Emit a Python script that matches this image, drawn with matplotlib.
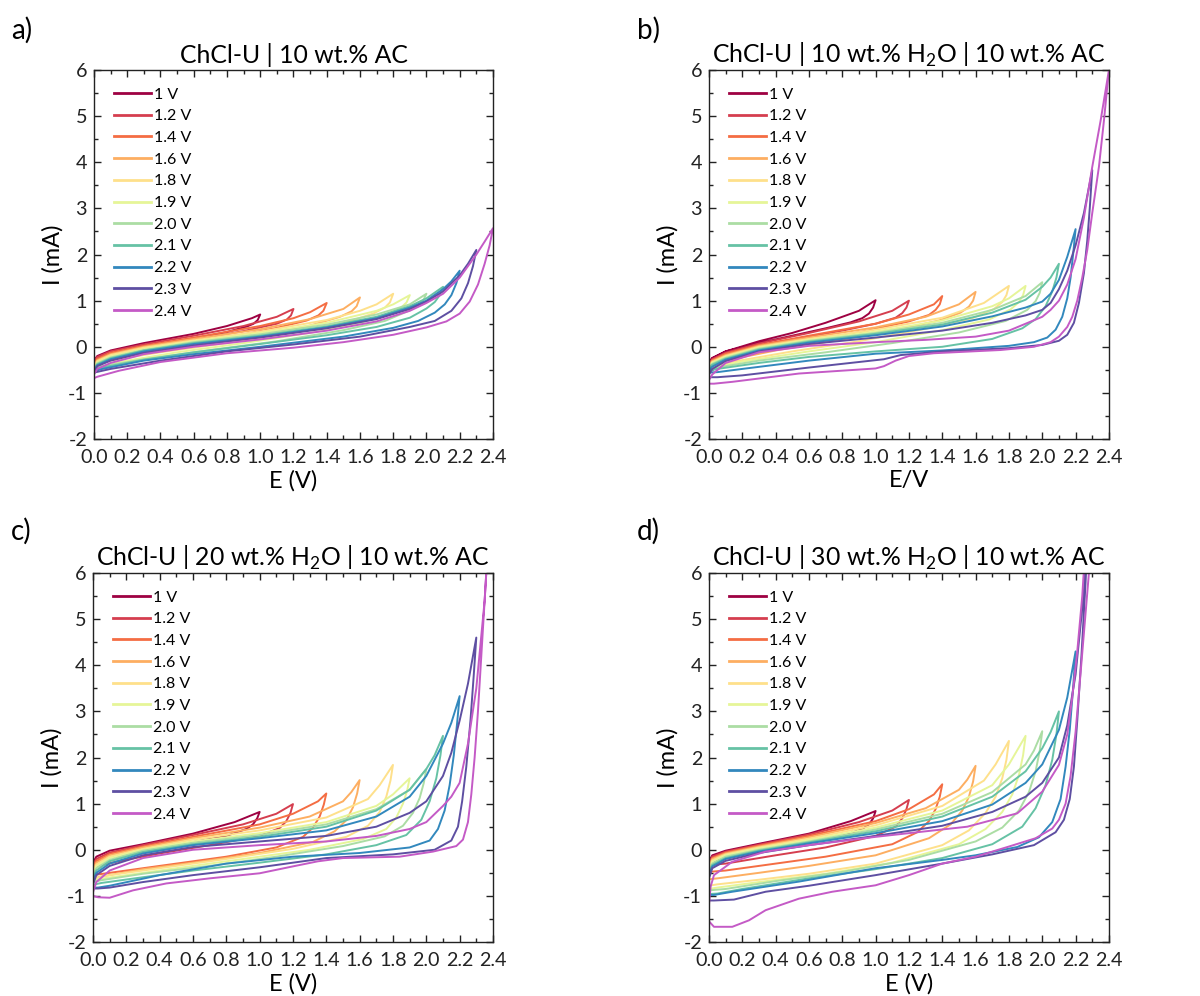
import matplotlib
matplotlib.use("Agg")
import matplotlib.pyplot as plt
from matplotlib.ticker import MultipleLocator

plt.rcParams["font.family"] = ["Lato", "DejaVu Sans"]
plt.rcParams["mathtext.fontset"] = "custom"
plt.rcParams["mathtext.rm"] = "Lato"

# vertex potentials and their colours
VERTICES = [1.0, 1.2, 1.4, 1.6, 1.8, 1.9, 2.0, 2.1, 2.2, 2.3, 2.4]
LABELS = ["1 V", "1.2 V", "1.4 V", "1.6 V", "1.8 V", "1.9 V", "2.0 V", "2.1 V", "2.2 V", "2.3 V", "2.4 V"]
COLORS = ["#9e0142", "#d53e4f", "#f46d43", "#fdae61", "#fee08b", "#e6f598",
          "#abdda4", "#66c2a5", "#3288bd", "#5e4fa2", "#c45ac6"]

TITLES = ["ChCl-U | 10 wt.% AC",
          "ChCl-U | 10 wt.% H$_2$O | 10 wt.% AC",
          "ChCl-U | 20 wt.% H$_2$O | 10 wt.% AC",
          "ChCl-U | 30 wt.% H$_2$O | 10 wt.% AC"]
LETTERS = ["a)", "b)", "c)", "d)"]
XLABELS = ["E (V)", "E/V", "E (V)", "E (V)"]

# ---- panel a: (E, I) ----
A_FWD = [
    [(0, -0.30), (0.02, -0.20), (0.1, -0.08), (0.3, 0.08), (0.6, 0.28), (0.8, 0.45), (0.95, 0.62), (1.0, 0.70)],
    [(0, -0.33), (0.02, -0.22), (0.1, -0.10), (0.3, 0.05), (0.6, 0.24), (0.9, 0.45), (1.1, 0.65), (1.2, 0.82)],
    [(0, -0.37), (0.02, -0.26), (0.1, -0.13), (0.3, 0.02), (0.6, 0.20), (1.0, 0.45), (1.2, 0.62), (1.3, 0.75), (1.4, 0.95)],
    [(0, -0.40), (0.02, -0.29), (0.1, -0.16), (0.3, 0.00), (0.6, 0.17), (1.0, 0.38), (1.3, 0.60), (1.5, 0.82), (1.6, 1.07)],
    [(0, -0.43), (0.02, -0.31), (0.1, -0.18), (0.3, -0.02), (0.6, 0.14), (1.0, 0.33), (1.4, 0.58), (1.6, 0.78), (1.7, 0.92), (1.8, 1.15)],
    [(0, -0.46), (0.02, -0.34), (0.1, -0.21), (0.3, -0.05), (0.6, 0.12), (1.0, 0.30), (1.4, 0.52), (1.7, 0.78), (1.8, 0.92), (1.9, 1.12)],
    [(0, -0.48), (0.02, -0.36), (0.1, -0.23), (0.3, -0.07), (0.6, 0.10), (1.0, 0.27), (1.4, 0.48), (1.7, 0.70), (1.9, 0.92), (2.0, 1.15)],
    [(0, -0.50), (0.02, -0.38), (0.1, -0.25), (0.3, -0.08), (0.6, 0.08), (1.0, 0.24), (1.4, 0.44), (1.7, 0.65), (1.9, 0.88), (2.0, 1.05), (2.1, 1.30)],
    [(0, -0.52), (0.02, -0.40), (0.1, -0.27), (0.3, -0.10), (0.6, 0.06), (1.0, 0.22), (1.4, 0.42), (1.7, 0.62), (1.9, 0.85), (2.0, 1.00), (2.1, 1.25), (2.15, 1.42), (2.2, 1.65)],
    [(0, -0.55), (0.02, -0.42), (0.1, -0.30), (0.3, -0.13), (0.6, 0.03), (1.0, 0.20), (1.4, 0.40), (1.7, 0.60), (1.9, 0.82), (2.0, 0.98), (2.1, 1.20), (2.2, 1.55), (2.25, 1.80), (2.3, 2.10)],
    [(0, -0.60), (0.02, -0.48), (0.1, -0.35), (0.3, -0.16), (0.6, 0.00), (1.0, 0.16), (1.4, 0.35), (1.7, 0.55), (1.9, 0.78), (2.0, 0.95), (2.1, 1.15), (2.2, 1.50), (2.3, 2.00), (2.35, 2.28), (2.4, 2.57)],
]
A_REV = [
    [(1.0, 0.70), (0.985, 0.58), (0.96, 0.50), (0.92, 0.44), (0.8, 0.32), (0.5, 0.10), (0.2, -0.08), (0.05, -0.20), (0, -0.30)],
    [(1.2, 0.82), (1.185, 0.68), (1.16, 0.59), (1.1, 0.50), (0.9, 0.34), (0.6, 0.15), (0.3, -0.03), (0.1, -0.17), (0, -0.33)],
    [(1.4, 0.95), (1.38, 0.78), (1.35, 0.68), (1.28, 0.57), (1.1, 0.41), (0.8, 0.20), (0.5, 0.02), (0.2, -0.16), (0, -0.37)],
    [(1.6, 1.07), (1.58, 0.88), (1.55, 0.77), (1.48, 0.65), (1.3, 0.46), (1.0, 0.24), (0.6, 0.02), (0.3, -0.14), (0.1, -0.27), (0, -0.40)],
    [(1.8, 1.15), (1.78, 0.96), (1.75, 0.85), (1.68, 0.72), (1.5, 0.51), (1.2, 0.30), (0.8, 0.08), (0.4, -0.12), (0.1, -0.30), (0, -0.43)],
    [(1.9, 1.12), (1.88, 0.96), (1.85, 0.86), (1.78, 0.73), (1.6, 0.51), (1.3, 0.30), (0.9, 0.08), (0.5, -0.12), (0.2, -0.30), (0, -0.46)],
    [(2.0, 1.15), (1.98, 1.00), (1.95, 0.90), (1.9, 0.79), (1.75, 0.56), (1.5, 0.36), (1.1, 0.12), (0.7, -0.07), (0.3, -0.27), (0.05, -0.42), (0, -0.48)],
    [(2.1, 1.30), (2.08, 1.12), (2.05, 0.97), (2.0, 0.83), (1.9, 0.63), (1.7, 0.43), (1.4, 0.25), (1.0, 0.06), (0.6, -0.12), (0.3, -0.28), (0.05, -0.45), (0, -0.50)],
    [(2.2, 1.65), (2.18, 1.38), (2.15, 1.12), (2.11, 0.92), (2.05, 0.74), (1.95, 0.56), (1.8, 0.41), (1.5, 0.22), (1.0, 0.00), (0.6, -0.16), (0.3, -0.30), (0.05, -0.48), (0, -0.52)],
    [(2.3, 2.10), (2.28, 1.75), (2.25, 1.38), (2.21, 1.05), (2.15, 0.78), (2.05, 0.56), (1.9, 0.43), (1.6, 0.22), (1.2, 0.05), (0.8, -0.10), (0.4, -0.30), (0.1, -0.48), (0, -0.56)],
    [(2.4, 2.57), (2.38, 2.20), (2.35, 1.80), (2.31, 1.35), (2.26, 0.98), (2.2, 0.72), (2.12, 0.55), (2.0, 0.42), (1.8, 0.26), (1.5, 0.10), (1.2, -0.02), (0.8, -0.14), (0.4, -0.33), (0.15, -0.52), (0.02, -0.65), (0, -0.68)],
]

# ---- panel b ----
B_FWD = [
    [(0, -0.33), (0.02, -0.24), (0.1, -0.10), (0.3, 0.12), (0.5, 0.30), (0.7, 0.52), (0.9, 0.78), (1.0, 1.01)],
    [(0, -0.36), (0.02, -0.27), (0.1, -0.13), (0.3, 0.07), (0.6, 0.30), (0.9, 0.55), (1.1, 0.78), (1.2, 1.00)],
    [(0, -0.38), (0.02, -0.29), (0.1, -0.15), (0.3, 0.04), (0.6, 0.24), (1.0, 0.50), (1.2, 0.70), (1.35, 0.92), (1.4, 1.10)],
    [(0, -0.40), (0.02, -0.31), (0.1, -0.18), (0.3, 0.02), (0.6, 0.20), (1.0, 0.42), (1.3, 0.65), (1.5, 0.92), (1.6, 1.19)],
    [(0, -0.42), (0.02, -0.33), (0.1, -0.20), (0.3, 0.00), (0.6, 0.17), (1.0, 0.37), (1.4, 0.63), (1.65, 0.95), (1.8, 1.32)],
    [(0, -0.44), (0.02, -0.35), (0.1, -0.22), (0.3, -0.02), (0.6, 0.15), (1.0, 0.33), (1.4, 0.57), (1.7, 0.88), (1.8, 1.05), (1.9, 1.32)],
    [(0, -0.46), (0.02, -0.37), (0.1, -0.24), (0.3, -0.04), (0.6, 0.13), (1.0, 0.30), (1.4, 0.52), (1.7, 0.80), (1.9, 1.10), (2.0, 1.40)],
    [(0, -0.48), (0.02, -0.39), (0.1, -0.26), (0.3, -0.06), (0.6, 0.11), (1.0, 0.28), (1.4, 0.48), (1.7, 0.74), (1.9, 1.02), (2.0, 1.30), (2.05, 1.50), (2.1, 1.80)],
    [(0, -0.52), (0.02, -0.43), (0.1, -0.28), (0.3, -0.08), (0.6, 0.09), (1.0, 0.25), (1.4, 0.44), (1.7, 0.66), (1.9, 0.85), (2.0, 0.98), (2.05, 1.15), (2.1, 1.45), (2.15, 1.95), (2.2, 2.55)],
    [(0, -0.60), (0.02, -0.48), (0.1, -0.31), (0.3, -0.10), (0.6, 0.06), (1.0, 0.20), (1.4, 0.35), (1.7, 0.52), (1.9, 0.68), (2.0, 0.80), (2.05, 0.95), (2.1, 1.25), (2.15, 1.65), (2.2, 2.20), (2.25, 2.90), (2.3, 3.83)],
    [(0, -0.72), (0.02, -0.60), (0.1, -0.35), (0.3, -0.12), (0.6, 0.02), (1.0, 0.10), (1.3, 0.15), (1.6, 0.22), (1.8, 0.35), (2.0, 0.65), (2.05, 0.80), (2.1, 1.00), (2.15, 1.35), (2.2, 1.90), (2.25, 2.80), (2.3, 3.90), (2.35, 4.90), (2.4, 6.00)],
]
B_REV = [
    [(1.0, 1.01), (0.985, 0.85), (0.96, 0.72), (0.92, 0.62), (0.85, 0.53), (0.7, 0.40), (0.5, 0.24), (0.3, 0.08), (0.1, -0.10), (0.02, -0.25), (0, -0.35)],
    [(1.2, 1.00), (1.185, 0.85), (1.16, 0.73), (1.12, 0.63), (1.0, 0.50), (0.8, 0.35), (0.5, 0.16), (0.25, -0.02), (0.05, -0.25), (0, -0.38)],
    [(1.4, 1.10), (1.385, 0.92), (1.36, 0.80), (1.32, 0.69), (1.2, 0.55), (0.95, 0.35), (0.6, 0.12), (0.3, -0.08), (0.05, -0.30), (0, -0.40)],
    [(1.6, 1.19), (1.585, 1.00), (1.56, 0.87), (1.51, 0.74), (1.38, 0.57), (1.1, 0.34), (0.7, 0.10), (0.4, -0.08), (0.1, -0.30), (0, -0.42)],
    [(1.8, 1.32), (1.785, 1.12), (1.76, 0.97), (1.71, 0.82), (1.58, 0.62), (1.3, 0.39), (0.9, 0.12), (0.5, -0.10), (0.15, -0.32), (0, -0.45)],
    [(1.9, 1.32), (1.885, 1.12), (1.86, 0.97), (1.81, 0.81), (1.68, 0.59), (1.4, 0.36), (1.0, 0.10), (0.6, -0.10), (0.2, -0.32), (0, -0.47)],
    [(2.0, 1.40), (1.985, 1.17), (1.96, 0.99), (1.91, 0.80), (1.78, 0.56), (1.5, 0.31), (1.1, 0.08), (0.7, -0.12), (0.3, -0.30), (0.05, -0.45), (0, -0.50)],
    [(2.1, 1.80), (2.085, 1.50), (2.06, 1.20), (2.02, 0.88), (1.96, 0.60), (1.88, 0.40), (1.7, 0.17), (1.4, 0.00), (1.0, -0.10), (0.6, -0.22), (0.3, -0.35), (0.05, -0.48), (0, -0.52)],
    [(2.2, 2.55), (2.185, 2.00), (2.17, 1.50), (2.15, 1.05), (2.12, 0.65), (2.08, 0.37), (2.03, 0.20), (1.95, 0.10), (1.8, 0.02), (1.4, -0.08), (1.0, -0.15), (0.6, -0.30), (0.2, -0.48), (0.05, -0.55), (0, -0.56)],
    [(2.3, 3.83), (2.285, 3.00), (2.27, 2.30), (2.25, 1.60), (2.22, 0.95), (2.19, 0.52), (2.15, 0.26), (2.1, 0.13), (2.0, 0.04), (1.8, -0.03), (1.4, -0.10), (1.15, -0.18), (1.05, -0.27), (0.9, -0.33), (0.6, -0.45), (0.2, -0.62), (0.05, -0.66), (0, -0.66)],
    [(2.4, 6.00), (2.37, 4.90), (2.34, 3.90), (2.3, 2.90), (2.27, 2.10), (2.24, 1.50), (2.21, 1.00), (2.18, 0.65), (2.15, 0.43), (2.1, 0.22), (2.05, 0.10), (1.95, 0.00), (1.75, -0.07), (1.35, -0.14), (1.2, -0.20), (1.12, -0.30), (1.05, -0.42), (1.0, -0.47), (0.54, -0.58), (0.14, -0.76), (0.03, -0.80), (0, -0.80)],
]

# ---- panel c ----
C_FWD = [
    [(0, -0.28), (0.02, -0.15), (0.1, -0.02), (0.3, 0.12), (0.6, 0.35), (0.85, 0.60), (1.0, 0.82)],
    [(0, -0.32), (0.02, -0.20), (0.1, -0.06), (0.3, 0.10), (0.6, 0.32), (0.9, 0.55), (1.1, 0.78), (1.2, 0.99)],
    [(0, -0.36), (0.02, -0.24), (0.1, -0.09), (0.3, 0.07), (0.6, 0.28), (1.0, 0.55), (1.2, 0.78), (1.35, 1.05), (1.4, 1.22)],
    [(0, -0.42), (0.02, -0.28), (0.1, -0.12), (0.3, 0.05), (0.6, 0.25), (1.0, 0.48), (1.3, 0.72), (1.5, 1.05), (1.55, 1.25), (1.6, 1.51)],
    [(0, -0.48), (0.02, -0.32), (0.1, -0.15), (0.3, 0.02), (0.6, 0.22), (1.0, 0.42), (1.4, 0.70), (1.65, 1.10), (1.72, 1.40), (1.8, 1.84)],
    [(0, -0.52), (0.02, -0.36), (0.1, -0.18), (0.3, 0.00), (0.6, 0.18), (1.0, 0.36), (1.4, 0.60), (1.7, 0.95), (1.8, 1.20), (1.9, 1.55)],
    [(0, -0.56), (0.02, -0.40), (0.1, -0.22), (0.3, -0.02), (0.6, 0.15), (1.0, 0.32), (1.4, 0.55), (1.7, 0.88), (1.9, 1.30), (2.0, 1.75)],
    [(0, -0.62), (0.02, -0.45), (0.1, -0.25), (0.3, -0.05), (0.6, 0.12), (1.0, 0.28), (1.4, 0.50), (1.7, 0.85), (1.9, 1.30), (2.0, 1.75), (2.05, 2.05), (2.1, 2.47)],
    [(0, -0.68), (0.02, -0.50), (0.1, -0.30), (0.3, -0.08), (0.6, 0.10), (1.0, 0.25), (1.4, 0.42), (1.7, 0.72), (1.9, 1.15), (2.0, 1.60), (2.1, 2.30), (2.15, 2.75), (2.2, 3.33)],
    [(0, -0.75), (0.02, -0.55), (0.1, -0.35), (0.3, -0.12), (0.6, 0.06), (1.0, 0.18), (1.4, 0.30), (1.7, 0.50), (1.9, 0.80), (2.0, 1.05), (2.1, 1.60), (2.15, 2.10), (2.2, 2.80), (2.25, 3.60), (2.3, 4.60)],
    [(0, -0.92), (0.02, -0.70), (0.1, -0.45), (0.3, -0.18), (0.6, 0.00), (1.0, 0.10), (1.4, 0.18), (1.7, 0.30), (1.9, 0.45), (2.0, 0.60), (2.1, 0.95), (2.15, 1.15), (2.2, 1.45), (2.25, 2.30), (2.3, 3.50), (2.35, 5.40), (2.4, 8.50)],
]
C_REV = [
    [(1.0, 0.82), (0.985, 0.68), (0.96, 0.55), (0.92, 0.45), (0.8, 0.30), (0.5, 0.10), (0.25, -0.05), (0.05, -0.20), (0, -0.32)],
    [(1.2, 0.99), (1.185, 0.80), (1.16, 0.62), (1.12, 0.47), (1.0, 0.30), (0.7, 0.10), (0.4, -0.08), (0.15, -0.25), (0, -0.38)],
    [(1.4, 1.22), (1.385, 0.98), (1.36, 0.72), (1.32, 0.48), (1.26, 0.28), (1.1, 0.05), (0.8, -0.15), (0.4, -0.35), (0.1, -0.50), (0, -0.55)],
    [(1.6, 1.51), (1.585, 1.22), (1.56, 0.92), (1.52, 0.64), (1.45, 0.40), (1.32, 0.17), (1.0, -0.07), (0.6, -0.28), (0.3, -0.42), (0.05, -0.58), (0, -0.62)],
    [(1.8, 1.84), (1.785, 1.50), (1.76, 1.15), (1.72, 0.82), (1.65, 0.52), (1.52, 0.28), (1.2, 0.02), (0.8, -0.20), (0.4, -0.40), (0.1, -0.55), (0, -0.62)],
    [(1.9, 1.55), (1.885, 1.28), (1.86, 1.00), (1.82, 0.70), (1.76, 0.45), (1.62, 0.23), (1.3, 0.00), (0.9, -0.20), (0.5, -0.40), (0.1, -0.60), (0, -0.66)],
    [(2.0, 1.75), (1.985, 1.45), (1.96, 1.12), (1.92, 0.80), (1.86, 0.52), (1.75, 0.29), (1.5, 0.08), (1.1, -0.15), (0.7, -0.35), (0.3, -0.52), (0.05, -0.66), (0, -0.70)],
    [(2.1, 2.47), (2.085, 2.05), (2.06, 1.55), (2.02, 1.05), (1.97, 0.65), (1.88, 0.32), (1.7, 0.10), (1.4, -0.10), (1.0, -0.28), (0.6, -0.45), (0.25, -0.62), (0.05, -0.72), (0, -0.76)],
    [(2.2, 3.33), (2.185, 2.75), (2.165, 2.05), (2.14, 1.40), (2.11, 0.85), (2.07, 0.45), (2.02, 0.20), (1.9, 0.05), (1.6, -0.07), (1.2, -0.15), (0.8, -0.30), (0.4, -0.55), (0.1, -0.78), (0.03, -0.82), (0, -0.82)],
    [(2.3, 4.60), (2.285, 3.80), (2.265, 2.80), (2.24, 1.80), (2.215, 1.05), (2.19, 0.50), (2.15, 0.20), (2.05, 0.00), (1.8, -0.10), (1.4, -0.18), (1.0, -0.38), (0.6, -0.55), (0.3, -0.70), (0.1, -0.82), (0.03, -0.84), (0, -0.84)],
    [(2.4, 8.50), (2.36, 6.00), (2.33, 4.20), (2.31, 3.00), (2.29, 2.00), (2.27, 1.20), (2.25, 0.60), (2.22, 0.22), (2.18, 0.08), (2.04, -0.04), (1.84, -0.15), (1.5, -0.18), (1.35, -0.25), (1.2, -0.36), (1.0, -0.51), (0.7, -0.62), (0.44, -0.73), (0.24, -0.88), (0.1, -1.04), (0.03, -1.03), (0, -1.00)],
]

# ---- panel d ----
D_FWD = [
    [(0, -0.25), (0.02, -0.12), (0.1, -0.02), (0.3, 0.13), (0.6, 0.35), (0.85, 0.62), (1.0, 0.84)],
    [(0, -0.28), (0.02, -0.15), (0.1, -0.04), (0.3, 0.11), (0.6, 0.33), (0.9, 0.60), (1.1, 0.85), (1.2, 1.08)],
    [(0, -0.32), (0.02, -0.18), (0.1, -0.06), (0.3, 0.09), (0.6, 0.30), (1.0, 0.62), (1.2, 0.88), (1.35, 1.20), (1.4, 1.42)],
    [(0, -0.36), (0.02, -0.20), (0.1, -0.08), (0.3, 0.07), (0.6, 0.27), (1.0, 0.58), (1.3, 0.90), (1.5, 1.30), (1.55, 1.52), (1.6, 1.82)],
    [(0, -0.40), (0.02, -0.23), (0.1, -0.10), (0.3, 0.05), (0.6, 0.24), (1.0, 0.53), (1.4, 0.95), (1.65, 1.50), (1.72, 1.85), (1.8, 2.36)],
    [(0, -0.44), (0.02, -0.26), (0.1, -0.12), (0.3, 0.03), (0.6, 0.21), (1.0, 0.48), (1.4, 0.85), (1.7, 1.40), (1.8, 1.85), (1.9, 2.47)],
    [(0, -0.48), (0.02, -0.30), (0.1, -0.15), (0.3, 0.00), (0.6, 0.18), (1.0, 0.44), (1.4, 0.78), (1.7, 1.25), (1.9, 1.85), (1.95, 2.15), (2.0, 2.57)],
    [(0, -0.52), (0.02, -0.33), (0.1, -0.18), (0.3, -0.02), (0.6, 0.16), (1.0, 0.40), (1.4, 0.72), (1.7, 1.15), (1.9, 1.70), (2.0, 2.20), (2.05, 2.55), (2.1, 3.00)],
    [(0, -0.56), (0.02, -0.36), (0.1, -0.20), (0.3, -0.04), (0.6, 0.14), (1.0, 0.36), (1.4, 0.62), (1.7, 0.98), (1.9, 1.45), (2.0, 1.85), (2.1, 2.60), (2.15, 3.30), (2.2, 4.30)],
    [(0, -0.62), (0.02, -0.40), (0.1, -0.24), (0.3, -0.07), (0.6, 0.10), (1.0, 0.30), (1.4, 0.52), (1.7, 0.82), (1.9, 1.15), (2.0, 1.45), (2.1, 2.00), (2.15, 2.70), (2.2, 3.80), (2.25, 5.60), (2.3, 9.00)],
    [(0, -1.20), (0.01, -0.80), (0.03, -0.55), (0.14, -0.26), (0.34, -0.04), (0.6, 0.10), (1.0, 0.28), (1.55, 0.50), (1.85, 0.79), (2.0, 1.26), (2.1, 1.84), (2.15, 2.50), (2.18, 3.30), (2.21, 4.30), (2.24, 5.50), (2.3, 9.00), (2.4, 15.0)],
]
D_REV = [
    [(1.0, 0.84), (0.985, 0.68), (0.96, 0.55), (0.92, 0.45), (0.8, 0.30), (0.5, 0.08), (0.2, -0.10), (0.05, -0.22), (0, -0.28)],
    [(1.2, 1.08), (1.185, 0.88), (1.16, 0.68), (1.12, 0.50), (1.0, 0.30), (0.7, 0.05), (0.4, -0.12), (0.1, -0.30), (0, -0.33)],
    [(1.4, 1.42), (1.385, 1.15), (1.36, 0.88), (1.32, 0.62), (1.25, 0.38), (1.1, 0.12), (0.7, -0.15), (0.4, -0.30), (0.1, -0.45), (0, -0.48)],
    [(1.6, 1.82), (1.585, 1.48), (1.56, 1.15), (1.52, 0.85), (1.45, 0.55), (1.32, 0.25), (1.0, -0.12), (0.6, -0.35), (0.3, -0.50), (0.05, -0.62), (0, -0.64)],
    [(1.8, 2.36), (1.785, 1.95), (1.76, 1.55), (1.72, 1.15), (1.66, 0.80), (1.56, 0.42), (1.4, 0.10), (1.0, -0.30), (0.6, -0.52), (0.3, -0.65), (0.05, -0.75), (0, -0.78)],
    [(1.9, 2.47), (1.885, 2.05), (1.86, 1.62), (1.82, 1.20), (1.76, 0.82), (1.66, 0.45), (1.5, 0.12), (1.1, -0.28), (0.7, -0.52), (0.3, -0.70), (0.05, -0.82), (0, -0.85)],
    [(2.0, 2.57), (1.985, 2.15), (1.96, 1.70), (1.92, 1.25), (1.86, 0.85), (1.76, 0.48), (1.6, 0.18), (1.2, -0.22), (0.8, -0.48), (0.4, -0.68), (0.1, -0.85), (0, -0.88)],
    [(2.1, 3.00), (2.085, 2.50), (2.06, 1.95), (2.02, 1.40), (1.96, 0.90), (1.88, 0.50), (1.7, 0.12), (1.4, -0.18), (1.0, -0.42), (0.6, -0.62), (0.2, -0.85), (0.05, -0.95), (0, -0.96)],
    [(2.2, 4.30), (2.185, 3.50), (2.165, 2.60), (2.14, 1.80), (2.11, 1.10), (2.06, 0.60), (1.98, 0.27), (1.85, 0.06), (1.6, -0.12), (1.4, -0.22), (1.0, -0.40), (0.54, -0.69), (0.14, -0.91), (0.03, -0.98), (0, -0.98)],
    [(2.3, 9.00), (2.26, 5.80), (2.235, 4.20), (2.21, 2.80), (2.19, 1.80), (2.165, 1.10), (2.13, 0.65), (2.08, 0.38), (1.95, 0.10), (1.7, -0.10), (1.4, -0.30), (1.0, -0.55), (0.6, -0.78), (0.34, -0.91), (0.15, -1.08), (0.03, -1.10), (0, -1.10)],
    [(2.4, 15.0), (2.28, 6.00), (2.25, 4.70), (2.22, 3.40), (2.2, 2.56), (2.17, 1.60), (2.14, 1.00), (2.1, 0.65), (2.06, 0.46), (1.96, 0.25), (1.8, 0.07), (1.6, -0.15), (1.4, -0.30), (1.2, -0.55), (1.0, -0.77), (0.74, -0.91), (0.54, -1.06), (0.34, -1.31), (0.24, -1.53), (0.14, -1.67), (0.03, -1.67), (0, -1.55)],
]

PANELS = [(A_FWD, A_REV), (B_FWD, B_REV), (C_FWD, C_REV), (D_FWD, D_REV)]

# axes boxes in figure fractions
BOXES = [
    [0.0783, 0.5592, 0.3325, 0.3705],
    [0.5908, 0.5592, 0.3333, 0.3705],
    [0.0775, 0.0542, 0.3333, 0.3705],
    [0.5908, 0.0542, 0.3333, 0.3705],
]
LETTER_POS = [(0.009, 0.983), (0.531, 0.983), (0.009, 0.480), (0.531, 0.480)]


def draw_panel(ax, fwd, rev):
    for k in range(len(VERTICES)):
        pts = fwd[k] + rev[k][1:] + fwd[k][:1]  # closed loop, vertical jump at E = 0
        e = [p[0] for p in pts]
        i = [p[1] for p in pts]
        ax.plot(e, i, color=COLORS[k], lw=1.4, label=LABELS[k], solid_joinstyle="round")


def style_axes(ax):
    ax.set_xlim(0, 2.4)
    ax.set_ylim(-2, 6)
    ax.xaxis.set_major_locator(MultipleLocator(0.2))
    ax.xaxis.set_minor_locator(MultipleLocator(0.1))
    ax.yaxis.set_major_locator(MultipleLocator(1))
    ax.yaxis.set_minor_locator(MultipleLocator(0.5))
    ax.xaxis.set_major_formatter(plt.FuncFormatter(lambda v, _: f"{v:.1f}"))
    ax.yaxis.set_major_formatter(plt.FuncFormatter(lambda v, _: f"{v:.0f}"))
    ax.tick_params(which="both", direction="in", top=True, right=True, width=1.0, colors="#222222")
    ax.tick_params(which="major", length=5, labelsize=14.2)
    ax.tick_params(which="minor", length=3)
    ax.tick_params(axis="x", which="major", pad=7)
    ax.tick_params(axis="y", which="major", pad=5)
    for s in ax.spines.values():
        s.set_linewidth(1.0)
        s.set_color("#222222")


fig = plt.figure(figsize=(12, 9.96), dpi=100)

for n, (fwd, rev) in enumerate(PANELS):
    ax = fig.add_axes(BOXES[n])
    draw_panel(ax, fwd, rev)
    style_axes(ax)
    ax.set_title(TITLES[n], fontsize=17.8, pad=5)
    ax.set_xlabel(XLABELS[n], fontsize=17, labelpad=3)
    ax.set_ylabel("I (mA)", fontsize=17, labelpad=3)
    leg = ax.legend(loc="upper left", bbox_to_anchor=(0.035, 0.97), frameon=False,
                    fontsize=11.5, handlelength=2.3, handletextpad=0.2, labelspacing=0.47,
                    borderaxespad=0)
    for h in leg.get_lines():
        h.set_linewidth(2.0)
    fig.text(LETTER_POS[n][0], LETTER_POS[n][1], LETTERS[n], fontsize=20, va="top", ha="left")

fig.savefig("out.png", dpi=100)
